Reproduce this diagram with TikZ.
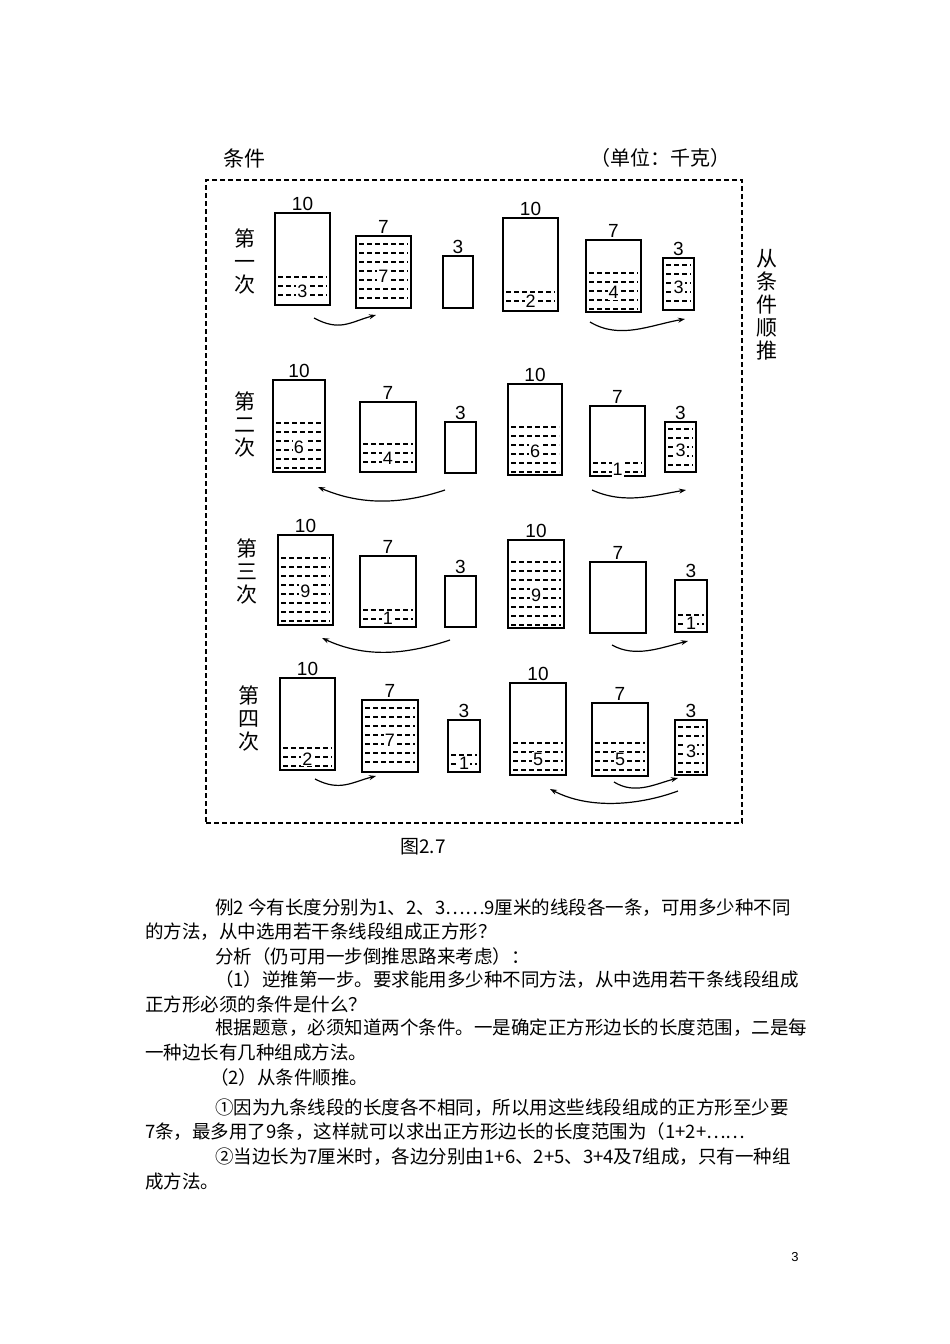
\documentclass[tikz,border=0pt]{standalone}
\usepackage{fontspec}
\setmainfont{Liberation Sans}
\newfontfamily\cjk{Noto Sans CJK SC}
\usetikzlibrary{arrows.meta}
\tikzset{
 jarbox/.style={draw,line width=1.8pt,inner sep=0pt},
 lvl/.style={dashed,dash pattern=on 5pt off 3pt,line width=1.4pt},
 jlab/.style={font=\fontsize{19}{19}\selectfont,inner sep=1pt},
 num/.style={font=\fontsize{18}{18}\selectfont,fill=white,inner sep=1pt},
 flow/.style={line width=1.2pt,-{Stealth[length=7pt,width=5pt]}},
 body/.style={font=\cjk\fontsize{18.5}{18.5}\selectfont,anchor=west,inner sep=0pt},
 vert/.style={font=\cjk\fontsize{21}{23}\selectfont,align=center,inner sep=0pt}
}
\newcommand\jar[6]{% name x1 y1 x2 y2 label
 \node[jarbox,minimum width={(#4-#2)*1pt},minimum height={(#5-#3)*1pt}] (#1) at ({(#2+#4)/2},{(#3+#5)/2}) {};
 \node[jlab,anchor=south] (#1l) at (#1.north) {#6};}
\newcommand\wjar[8]{% + level number
 \jar{#1}{#2}{#3}{#4}{#5}{#6}
 \pgfmathsetmacro\ya{#7}\pgfmathsetmacro\yb{#7+9}\pgfmathsetmacro\yc{#5-3}
 \foreach \yy in {\ya,\yb,...,\yc}{\draw[lvl] ({#2+3},\yy) -- ({#4-3},\yy);}
 \node[num] (#1n) at ({(#2+#4)/2},{(#7+#5)/2}) {#8};}
\begin{document}
\begin{tikzpicture}[x=1pt,y=-1pt]
\fill[white] (0,0) rectangle (950,1344);
\useasboundingbox (0,0) rectangle (950,1344);
\node[font=\cjk\fontsize{21}{21}\selectfont] (cond) at (244,158) {条件};
\node[font=\cjk\fontsize{20}{20}\selectfont] (unit) at (660,158) {（单位：千克）};
\node[draw,dashed,dash pattern=on 5pt off 3pt,line width=1.4pt,minimum width=536pt,minimum height=643pt] (frame) at (474,501.5) {};
\node[vert] (side) at (767,305) {从\\条\\件\\顺\\推};
\node[font=\cjk\fontsize{19}{19}\selectfont] (fig) at (423,847) {图2.7};
% row labels
\node[vert] (r1) at (245,262) {第\\一\\次};
\node[vert] (r2) at (245,425) {第\\二\\次};
\node[vert] (r3) at (247,572) {第\\三\\次};
\node[vert] (r4) at (249,718) {第\\四\\次};
% row 1
\wjar{a1}{275}{213}{330}{305}{10}{277}{3}
\wjar{b1}{356}{236}{411}{308}{7}{244}{7}
\jar{c1}{443}{256}{473}{308}{3}
\wjar{d1}{503}{218}{558}{311}{10}{292}{2}
\wjar{e1}{586}{240}{641}{312}{7}{273}{4}
\wjar{f1}{663}{258}{694}{310}{3}{265}{3}
% row 2
\wjar{a2}{273}{380}{325}{472}{10}{423}{6}
\wjar{b2}{360}{402}{416}{472}{7}{444}{4}
\jar{c2}{445}{422}{476}{473}{3}
\wjar{d2}{508}{384}{562}{475}{10}{427}{6}
\wjar{e2}{590}{406}{645}{476}{7}{463}{1}
\wjar{f2}{665}{422}{696}{472}{3}{429}{3}
% row 3
\wjar{a3}{278}{535}{333}{625}{10}{558}{9}
\wjar{b3}{360}{556}{416}{627}{7}{610}{1}
\jar{c3}{445}{576}{476}{627}{3}
\wjar{d3}{508}{540}{564}{628}{10}{562}{9}
\jar{e3}{590}{562}{646}{633}{7}
\wjar{f3}{675}{580}{707}{632}{3}{615}{1}
% row 4
\wjar{a4}{280}{678}{335}{770}{10}{748}{2}
\wjar{b4}{362}{700}{418}{772}{7}{708}{7}
\wjar{c4}{448}{720}{480}{772}{3}{755}{1}
\wjar{d4}{510}{683}{566}{775}{10}{743}{5}
\wjar{e4}{592}{703}{648}{776}{7}{743}{5}
\wjar{f4}{675}{720}{707}{775}{3}{727}{3}
% arrows
\coordinate (p1) at (314,318); \coordinate (q1) at (376,315);
\draw[flow] (p1) .. controls (340,332) and (350,322) .. (q1);
\coordinate (p2) at (590,322); \coordinate (q2) at (685,319);
\draw[flow] (p2) .. controls (620,340) and (650,325) .. (q2);
\coordinate (p3) at (445,490); \coordinate (q3) at (318,487);
\draw[flow] (p3) .. controls (400,505) and (360,505) .. (q3);
\coordinate (p4) at (592,490); \coordinate (q4) at (686,490);
\draw[flow] (p4) .. controls (625,505) and (655,495) .. (q4);
\coordinate (p5) at (450,640); \coordinate (q5) at (322,638);
\draw[flow] (p5) .. controls (405,655) and (365,658) .. (q5);
\coordinate (p6) at (612,645); \coordinate (q6) at (688,641);
\draw[flow] (p6) .. controls (635,658) and (660,648) .. (q6);
\coordinate (p7) at (315,779); \coordinate (q7) at (376,776);
\draw[flow] (p7) .. controls (340,792) and (352,782) .. (q7);
\coordinate (p8) at (614,782); \coordinate (q8) at (678,778);
\draw[flow] (p8) .. controls (635,795) and (655,784) .. (q8);
\coordinate (p9) at (678,791); \coordinate (q9) at (550,789);
\draw[flow] (p9) .. controls (640,805) and (590,810) .. (q9);
% body text
\node[body] (t1) at (215,908) {例2 今有长度分别为1、2、3……9厘米的线段各一条，可用多少种不同};
\node[body] (t2) at (145,932) {的方法，从中选用若干条线段组成正方形？};
\node[body] (t3) at (215,956) {分析（仍可用一步倒推思路来考虑）：};
\node[body] (t4) at (215,980) {（1）逆推第一步。要求能用多少种不同方法，从中选用若干条线段组成};
\node[body] (t5) at (145,1004) {正方形必须的条件是什么？};
\node[body] (t6) at (215,1028) {根据题意，必须知道两个条件。一是确定正方形边长的长度范围，二是每};
\node[body] (t7) at (145,1052) {一种边长有几种组成方法。};
\node[body] (t8) at (210,1077) {（2）从条件顺推。};
\node[body] (t9) at (215,1108) {①因为九条线段的长度各不相同，所以用这些线段组成的正方形至少要};
\node[body] (t10) at (145,1132) {7条，最多用了9条，这样就可以求出正方形边长的长度范围为（1+2+……};
\node[body] (t11) at (215,1157) {②当边长为7厘米时，各边分别由1+6、2+5、3+4及7组成，只有一种组};
\node[body] (t12) at (145,1181) {成方法。};
\node[font=\fontsize{13}{13}\selectfont] (pg) at (795,1257) {3};
\end{tikzpicture}
\end{document}
